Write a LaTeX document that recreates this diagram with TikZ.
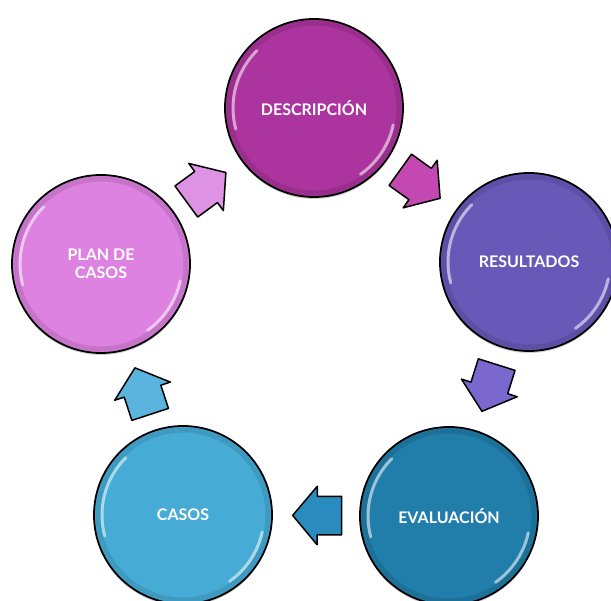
\documentclass[tikz,border=0pt]{standalone}
\usepackage{fontspec}
\setmainfont{Lato}
\usetikzlibrary{shapes.arrows,shadows,calc}
\definecolor{cDes}{RGB}{172,52,158}
\definecolor{cRes}{RGB}{104,88,184}
\definecolor{cEva}{RGB}{33,126,170}
\definecolor{cCas}{RGB}{70,172,214}
\definecolor{cPla}{RGB}{221,130,224}
\definecolor{aPD}{RGB}{222,146,228}
\definecolor{aDR}{RGB}{196,72,178}
\definecolor{aRE}{RGB}{122,104,206}
\definecolor{aEC}{RGB}{42,140,190}
\definecolor{aCP}{RGB}{90,180,222}
\begin{document}
\begin{tikzpicture}[x=1pt,y=1pt,
  bubble/.style={circle, draw=black, line width=1.8pt, minimum size=178pt, inner sep=0pt,
    text=white, font=\bfseries\fontsize{16}{17.5}\selectfont, align=center,
    drop shadow={shadow xshift=0pt, shadow yshift=-2pt, opacity=0.18, fill=black}},
  blockarr/.style={single arrow, draw=black, line width=1.5pt, line join=round,
    minimum height=49pt, inner xsep=0pt, inner ysep=18.5pt,
    single arrow head extend=10pt, single arrow tip angle=100,
    sloped, allow upside down, pos=0.782, anchor=tip},
  gloss/.style={white, line width=3pt, opacity=0.55, line cap=round},
  rim/.style={black, line width=5pt, opacity=0.10}]
\useasboundingbox (0,0) rectangle (611,601);
\node[bubble, fill=cDes] (D) at (314,493) {DESCRIPCIÓN};
\node[bubble, fill=cRes] (R) at (529,339) {RESULTADOS};
\node[bubble, fill=cEva] (E) at (449,85) {EVALUACIÓN};
\node[bubble, fill=cCas] (C) at (183,86) {CASOS};
\node[bubble, fill=cPla] (P) at (101,337) {PLAN DE\\CASOS};
\foreach \n in {D,R,E,C,P} {
  \draw[rim] (\n.center) circle (85);
  \draw[gloss] ($(\n.center)+(135:81)$) arc (135:195:81);
  \draw[gloss] ($(\n.center)+(-12:81)$) arc (-12:-55:81);
}
\path (P) -- node[blockarr, fill=aPD] (a1) {} (D);
\path (D) -- node[blockarr, fill=aDR] (a2) {} (R);
\path (R) -- node[blockarr, fill=aRE] (a3) {} (E);
\path (E) -- node[blockarr, fill=aEC] (a4) {} (C);
\path (C) -- node[blockarr, fill=aCP] (a5) {} (P);
\end{tikzpicture}
\end{document}
